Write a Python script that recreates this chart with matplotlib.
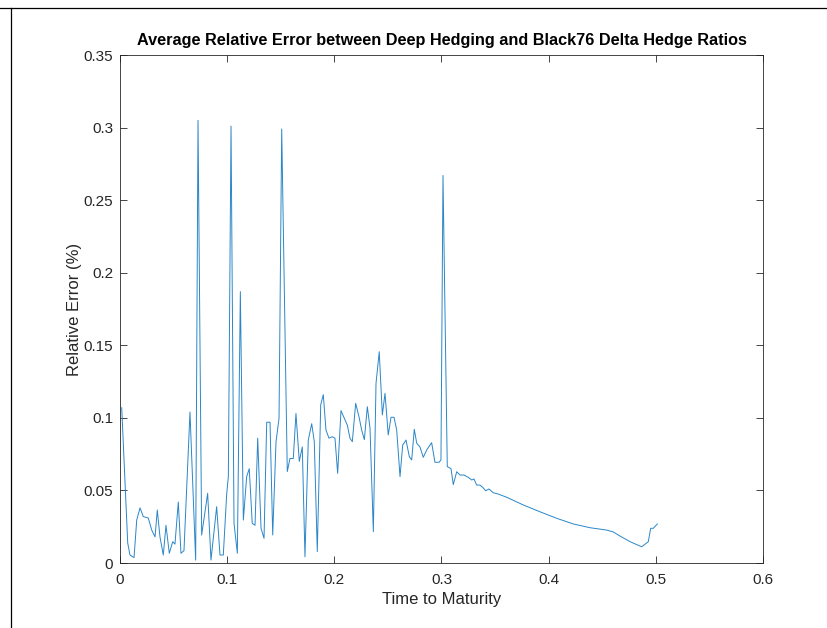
import numpy as np
import matplotlib.pyplot as plt
from matplotlib.lines import Line2D
from matplotlib.ticker import FuncFormatter

# valores
tiempo = [0.0016, 0.0072, 0.0093, 0.0131, 0.0156, 0.0187, 0.0217, 0.0264, 0.0296, 0.0327,
          0.0348, 0.0373, 0.0404, 0.0429, 0.0460, 0.0492, 0.0513, 0.0544, 0.0569, 0.0597,
          0.0653, 0.0706, 0.0728, 0.0762, 0.0818, 0.0849, 0.0902, 0.0933, 0.0964, 0.0996,
          0.1011, 0.1036, 0.1064, 0.1095, 0.1123, 0.1151, 0.1182, 0.1206, 0.1234, 0.1260,
          0.1285, 0.1316, 0.1344, 0.1369, 0.1400, 0.1425, 0.1456, 0.1484, 0.1509, 0.1561,
          0.1586, 0.1617, 0.1642, 0.1673, 0.1701, 0.1726, 0.1757, 0.1789, 0.1813, 0.1841,
          0.1873, 0.1897, 0.1922, 0.1950, 0.1981, 0.2006, 0.2031, 0.2062, 0.2093, 0.2121,
          0.2146, 0.2168, 0.2199, 0.2230, 0.2255, 0.2280, 0.2308, 0.2333, 0.2364, 0.2389,
          0.2419, 0.2448, 0.2473, 0.2503, 0.2529, 0.2557, 0.2582, 0.2613, 0.2638, 0.2669,
          0.2700, 0.2722, 0.2746, 0.2769, 0.2799, 0.2830, 0.2862, 0.2908, 0.2939, 0.2977,
          0.2995, 0.3014, 0.3054, 0.3089, 0.3110, 0.3142, 0.3173, 0.3210, 0.3250, 0.3282,
          0.3303, 0.3328, 0.3359, 0.3384, 0.3412, 0.3443, 0.3483, 0.3530, 0.3608, 0.3763,
          0.3919, 0.4075, 0.4230, 0.4386, 0.4541, 0.4603, 0.4665, 0.4759, 0.4868, 0.4930,
          0.4952, 0.4976, 0.5014]
error = [0.107, 0.0138, 0.0055, 0.0037, 0.0296, 0.038, 0.032, 0.031, 0.0227, 0.018,
         0.0365, 0.018, 0.0055, 0.026, 0.0067, 0.0147, 0.013, 0.042, 0.0067, 0.0085,
         0.104, 0.002, 0.305, 0.0193, 0.048, 0.002, 0.0388, 0.0055, 0.0055, 0.048,
         0.0595, 0.301, 0.0273, 0.0067, 0.187, 0.0296, 0.0595, 0.065, 0.0273, 0.026,
         0.086, 0.0239, 0.017, 0.097, 0.097, 0.0193, 0.0836, 0.0997, 0.299, 0.063,
         0.072, 0.072, 0.103, 0.07, 0.080, 0.0043, 0.0847, 0.096, 0.0836, 0.0078,
         0.109, 0.116, 0.0916, 0.086, 0.087, 0.086, 0.0618, 0.105, 0.0997, 0.095,
         0.086, 0.0836, 0.110, 0.1008, 0.0916, 0.085, 0.1077, 0.0928, 0.0216, 0.1238,
         0.1456, 0.102, 0.1169, 0.0882, 0.1004, 0.1004, 0.0916, 0.0595, 0.0813, 0.0847,
         0.0732, 0.071, 0.0921, 0.0825, 0.080, 0.0728, 0.0779, 0.0829, 0.0694, 0.0694,
         0.071, 0.267, 0.0664, 0.065, 0.054, 0.0629, 0.0606, 0.0606, 0.059, 0.0572,
         0.0579, 0.0537, 0.0537, 0.0522, 0.0498, 0.051, 0.0484, 0.0475, 0.0453, 0.040,
         0.0353, 0.0308, 0.0269, 0.0243, 0.0227, 0.0214, 0.0186, 0.0147, 0.0112, 0.0147,
         0.0239, 0.0239, 0.0269]

xticks = [0, 0.1, 0.2, 0.3, 0.4, 0.5, 0.6]
yticks = [0, 0.05, 0.1, 0.15, 0.2, 0.25, 0.3, 0.35]

plt.rcParams['font.family'] = ['Liberation Sans', 'DejaVu Sans']

fig = plt.figure(figsize=(8.27, 6.28), dpi=100)
ax = fig.add_axes([0.1451, 0.1035, 0.7775, 0.8089])

ax.plot(tiempo, error, color='#2a86c8', linewidth=0.7)

ax.set_xlim(0, 0.6)
ax.set_ylim(0, 0.35)
ax.set_xticks(xticks)
ax.set_yticks(yticks)
fmt = FuncFormatter(lambda v, p: '%g' % v)
ax.xaxis.set_major_formatter(fmt)
ax.yaxis.set_major_formatter(fmt)

gris = '#262626'
for s in ax.spines.values():
    s.set_color(gris)
    s.set_linewidth(0.6)
ax.tick_params(direction='in', length=5, width=0.6, colors=gris, labelsize=11,
               top=True, right=True)
ax.tick_params(axis='x', pad=7)
ax.tick_params(axis='y', pad=5)

ax.set_title('Average Relative Error between Deep Hedging and Black76 Delta Hedge Ratios',
             fontsize=11.7, fontweight='bold', pad=7)
ax.set_xlabel('Time to Maturity', fontsize=12, color=gris)
ax.set_ylabel('Relative Error (%)', fontsize=12, color=gris, labelpad=1)

# marco de la captura
fig.add_artist(Line2D([0, 1], [1 - 8 / 628, 1 - 8 / 628], color='k', linewidth=0.9,
                      transform=fig.transFigure))
fig.add_artist(Line2D([11 / 827, 11 / 827], [0, 1 - 8 / 628], color='k', linewidth=0.9,
                      transform=fig.transFigure))

fig.savefig('out.png', dpi=100)
